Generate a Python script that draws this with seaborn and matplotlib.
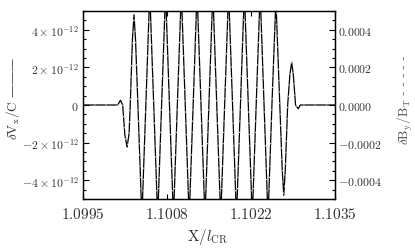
import matplotlib
matplotlib.use('Agg')
import matplotlib.pyplot as plt
import seaborn as sns
import numpy as np
from matplotlib.ticker import MultipleLocator

sns.set_theme(style='ticks')
plt.rcParams['mathtext.fontset'] = 'cm'
plt.rcParams['font.family'] = ['DejaVu Serif']

# wave packet: position along X/l_CR and amplitude
# (amplitude in units of 1e-12 for dVx/C and 1e-4 for dBy/B_T, the two curves overlap)
x_pos = [1.0995, 1.100050, 1.100095, 1.100130, 1.100165, 1.100200, 1.100232, 1.100250,
         1.100285, 1.100310, 1.100335, 1.100372, 1.100435, 1.100498, 1.100560, 1.100623,
         1.100686, 1.100748, 1.100811, 1.100873, 1.100936, 1.100998, 1.101061, 1.101124,
         1.101186, 1.101249, 1.101311, 1.101374, 1.101437, 1.101499, 1.101562, 1.101624,
         1.101687, 1.101749, 1.101812, 1.101875, 1.101937, 1.102000, 1.102062, 1.102125,
         1.102188, 1.102250, 1.102313, 1.102375, 1.102438, 1.102500, 1.102563, 1.102625,
         1.102663, 1.102688, 1.102713, 1.102750, 1.102785, 1.102813, 1.102840, 1.102875,
         1.102917, 1.102950, 1.1035]
amp = [0, 0, 0.25, 0, -1.6, -2.24, -1.5, 0,
       3.5, 4.8, 3.4, 0, -6.0, 0, 6.0, 0,
       -6.0, 0, 6.0, 0, -6.0, 0, 6.0, 0,
       -6.0, 0, 6.0, 0, -6.0, 0, 6.0, 0,
       -6.0, 0, 6.0, 0, -6.0, 0, 6.0, 0,
       -6.0, 0, 6.0, 0, -6.0, 0, 5.6, 0,
       -3.4, -4.8, -3.4, 0, 1.6, 2.28, 1.6, 0,
       -0.2, 0, 0]
vx_unit = 1e-12
db_unit = 1e-4

vx = np.array(amp) * vx_unit
dB = np.array(amp) * db_unit

x_ticks = [1.0995, 1.0995 + 0.004 / 3, 1.0995 + 0.008 / 3, 1.1035]
x_labels = [r'$1.0995$', r'$1.1008$', r'$1.1022$', r'$1.1035$']
vx_ticks = [-4e-12, -2e-12, 0, 2e-12, 4e-12]
vx_labels = [r'$-4\times10^{-12}$', r'$-2\times10^{-12}$', r'$0$',
             r'$2\times10^{-12}$', r'$4\times10^{-12}$']
db_ticks = [-4e-4, -2e-4, 0, 2e-4, 4e-4]
db_labels = [r'$-0.0004$', r'$-0.0002$', r'$0.0000$', r'$0.0002$', r'$0.0004$']

txt = '#333333'
fig = plt.figure(figsize=(4.15, 2.51), dpi=100)
ax = fig.add_axes([0.2, 0.2032, 0.607, 0.749])
sns.lineplot(x=x_pos, y=vx, ax=ax, color='black', lw=0.9)
ax2 = ax.twinx()
sns.lineplot(x=x_pos, y=dB, ax=ax2, color='white', lw=0.6, linestyle=(0, (1.5, 12)))

ax.set_xlim(1.0995, 1.1035)
ax.set_ylim(-5e-12, 5e-12)
ax2.set_ylim(-5e-4, 5e-4)

ax.set_xticks(x_ticks, x_labels)
ax.set_yticks(vx_ticks, vx_labels)
ax2.set_yticks(db_ticks, db_labels)
ax.yaxis.set_minor_locator(MultipleLocator(0.5e-12))
ax2.yaxis.set_minor_locator(MultipleLocator(0.5e-4))

ax.tick_params(axis='x', direction='in', top=True, bottom=True, length=3.5,
               width=0.8, labelsize=11, pad=5, colors='black', labelcolor=txt)
ax.tick_params(axis='y', which='both', direction='in', left=True, right=False,
               labelsize=8.5, pad=3, colors='black', labelcolor=txt, width=0.8)
ax.tick_params(axis='y', which='major', length=4)
ax.tick_params(axis='y', which='minor', length=2)
ax2.tick_params(axis='y', which='both', direction='in', right=True, left=False,
                labelsize=8.5, pad=2, colors='black', labelcolor=txt, width=0.8)
ax2.tick_params(axis='y', which='major', length=4)
ax2.tick_params(axis='y', which='minor', length=2)

for a in (ax, ax2):
    for s in a.spines.values():
        s.set_color('black')
        s.set_linewidth(0.9)
ax.set_xlabel('')
ax.set_ylabel('')
ax2.set_ylabel('')

fig.text(13 / 415, 1 - 98 / 251, r'$\delta\mathrm{V}_{\rm x}/\mathrm{C}$ ———', rotation=90,
         ha='center', va='center', fontsize=9.5, color=txt)
fig.text(405 / 415, 1 - 100 / 251, r'$\delta\mathrm{B}_{\rm y}/\mathrm{B}_{\rm T}$ - - - - -',
         rotation=90, ha='center', va='center', fontsize=9.5, color='#555555')
fig.text(208 / 415, 1 - 237 / 251, r'$\mathrm{X}/l_{\rm CR}$', ha='center', va='center',
         fontsize=11, color=txt)

fig.savefig('out.png', dpi=100)
